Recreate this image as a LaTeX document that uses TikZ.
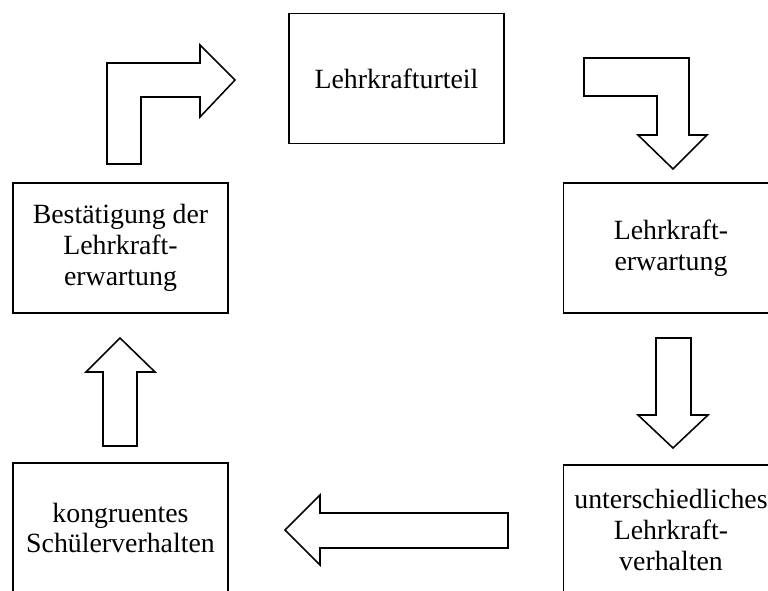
\documentclass[tikz,border=0pt]{standalone}
\usepackage{fontspec}
\setmainfont{Liberation Serif}
\begin{document}
\begin{tikzpicture}[
  box/.style={draw, line width=1.3pt, minimum width=5.375cm, minimum height=3.25cm,
    inner sep=0pt, align=center, font=\fontsize{19.8pt}{21.9pt}\selectfont},
  blockarrow/.style={draw, line width=1.1pt, line join=miter}]
\clip (0,0) rectangle (19.2,14.75);
\node[box] (urteil) at (9.9125,12.7875) {Lehrkrafturteil};
\node[box] (erwartung) at (16.775,8.55) {Lehrkraft-\\erwartung};
\node[box] (verhalten) at (16.775,1.5) {unterschiedliches\\Lehrkraft-\\verhalten};
\node[box] (kongruent) at (3.0125,1.55) {kongruentes\\Sch\"ulerverhalten};
\node[box] (bestaetigung) at (3.0125,8.55) {Best\"atigung der\\Lehrkraft-\\erwartung};
% L-shaped arrow up and to the right
\draw[blockarrow] (2.675,10.65) -- (2.675,13.175) -- (5.0,13.175) -- (5.0,13.625)
  -- (5.875,12.75) -- (5.0,11.825) -- (5.0,12.325) -- (3.525,12.325) -- (3.525,10.65) -- cycle;
% L-shaped arrow right and down
\draw[blockarrow] (14.6,13.3) -- (17.225,13.3) -- (17.225,11.375) -- (17.675,11.375)
  -- (16.825,10.525) -- (15.95,11.375) -- (16.425,11.375) -- (16.425,12.35) -- (14.6,12.35) -- cycle;
% down
\draw[blockarrow] (16.4,6.3) -- (17.275,6.3) -- (17.275,4.375) -- (17.7,4.375)
  -- (16.825,3.55) -- (15.95,4.375) -- (16.4,4.375) -- cycle;
% left
\draw[blockarrow] (12.7,1.925) -- (8.0,1.925) -- (8.0,2.375) -- (7.125,1.5)
  -- (8.0,0.625) -- (8.0,1.05) -- (12.7,1.05) -- cycle;
% up
\draw[blockarrow] (2.575,3.6) -- (2.575,5.45) -- (2.15,5.45) -- (3.0,6.3)
  -- (3.875,5.45) -- (3.425,5.45) -- (3.425,3.6) -- cycle;
\end{tikzpicture}
\end{document}
